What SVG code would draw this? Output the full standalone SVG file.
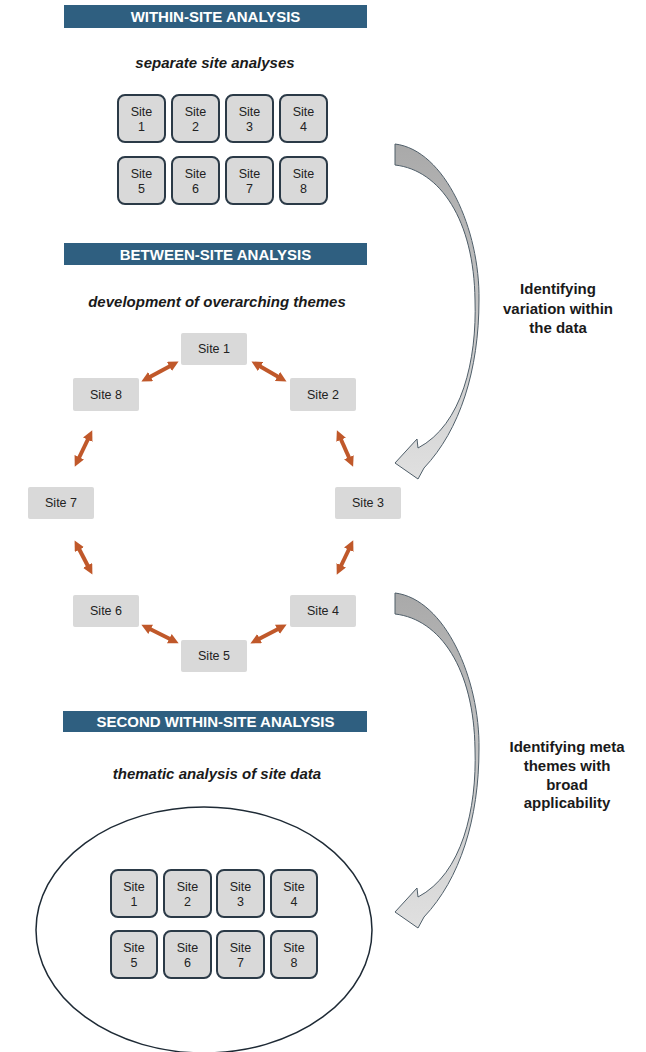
<svg xmlns="http://www.w3.org/2000/svg" width="646" height="1052" viewBox="0 0 646 1052">
<defs>
<style>
.hdr{fill:#2f5f80}
.hdrt{font-family:"Liberation Sans",Arial,sans-serif;font-weight:bold;font-size:15px;fill:#fff;text-anchor:middle}
.sub{font-family:"Liberation Sans",Arial,sans-serif;font-weight:bold;font-style:italic;font-size:15px;fill:#1a1a1a;text-anchor:middle}
.box{fill:#d9d9d9;stroke:#2b3a47;stroke-width:2}
.bt{font-family:"Liberation Sans",Arial,sans-serif;font-size:12.5px;fill:#222;text-anchor:middle}
.flat{fill:#d9d9d9}
.lab{font-family:"Liberation Sans",Arial,sans-serif;font-weight:bold;font-size:15px;fill:#1a1a1a;text-anchor:middle}
.dbl{stroke:#c0582a;stroke-width:4;fill:none;marker-start:url(#h);marker-end:url(#h)}
.big{fill:url(#g);stroke:#4f5e69;stroke-width:1}
</style>
<marker id="h" viewBox="0 0 10 10" refX="5" refY="5" markerWidth="2.6" markerHeight="2.6" orient="auto-start-reverse" markerUnits="strokeWidth">
<path d="M0,0 L10,5 L0,10 Z" fill="#c0582a"/>
</marker>
<linearGradient id="g" x1="0" y1="0" x2="0" y2="1">
<stop offset="0" stop-color="#a9a9a9"/>
<stop offset="1" stop-color="#e0e0e0"/>
</linearGradient>
<path id="curve" d="M395,144 C445,150 480,230 479,300 C479,370 460,430 424,468 L418,479 L395,463 L417,439 L418,448 C462,425 477,360 475,300 C474,220 440,170 395,165 Z"/>
</defs>

<g id="section1">
<rect class="hdr" x="64" y="5" width="303" height="23"/>
<text class="hdrt" x="215.5" y="22">WITHIN-SITE ANALYSIS</text>
<text class="sub" x="215" y="68">separate site analyses</text>
</g>
<g id="grid1">
<g id="g1-site1"><rect class="box" x="118" y="95" width="47" height="47" rx="7"/><text class="bt" x="141.5" y="116">Site</text><text class="bt" x="141.5" y="131">1</text></g>
<g id="g1-site2"><rect class="box" x="172" y="95" width="47" height="47" rx="7"/><text class="bt" x="195.5" y="116">Site</text><text class="bt" x="195.5" y="131">2</text></g>
<g id="g1-site3"><rect class="box" x="226" y="95" width="47" height="47" rx="7"/><text class="bt" x="249.5" y="116">Site</text><text class="bt" x="249.5" y="131">3</text></g>
<g id="g1-site4"><rect class="box" x="280" y="95" width="47" height="47" rx="7"/><text class="bt" x="303.5" y="116">Site</text><text class="bt" x="303.5" y="131">4</text></g>
<g id="g1-site5"><rect class="box" x="118" y="157" width="47" height="47" rx="7"/><text class="bt" x="141.5" y="178">Site</text><text class="bt" x="141.5" y="193">5</text></g>
<g id="g1-site6"><rect class="box" x="172" y="157" width="47" height="47" rx="7"/><text class="bt" x="195.5" y="178">Site</text><text class="bt" x="195.5" y="193">6</text></g>
<g id="g1-site7"><rect class="box" x="226" y="157" width="47" height="47" rx="7"/><text class="bt" x="249.5" y="178">Site</text><text class="bt" x="249.5" y="193">7</text></g>
<g id="g1-site8"><rect class="box" x="280" y="157" width="47" height="47" rx="7"/><text class="bt" x="303.5" y="178">Site</text><text class="bt" x="303.5" y="193">8</text></g>
</g>

<g id="section2">
<rect class="hdr" x="64" y="243" width="303" height="22"/>
<text class="hdrt" x="215.5" y="259.5">BETWEEN-SITE ANALYSIS</text>
<text class="sub" x="217" y="307">development of overarching themes</text>
</g>
<g id="ring">
<g id="r-site1"><rect class="flat" x="181" y="333" width="66" height="32" rx="2"/><text class="bt" x="214" y="353">Site 1</text></g>
<g id="r-site2"><rect class="flat" x="290" y="378" width="66" height="33" rx="2"/><text class="bt" x="323" y="399">Site 2</text></g>
<g id="r-site3"><rect class="flat" x="335" y="487" width="66" height="32" rx="2"/><text class="bt" x="368" y="507">Site 3</text></g>
<g id="r-site4"><rect class="flat" x="290" y="595" width="66" height="32" rx="2"/><text class="bt" x="323" y="615">Site 4</text></g>
<g id="r-site5"><rect class="flat" x="181" y="640" width="66" height="32" rx="2"/><text class="bt" x="214" y="660">Site 5</text></g>
<g id="r-site6"><rect class="flat" x="73" y="595" width="66" height="32" rx="2"/><text class="bt" x="106" y="615">Site 6</text></g>
<g id="r-site7"><rect class="flat" x="28" y="487" width="66" height="32" rx="2"/><text class="bt" x="61" y="507">Site 7</text></g>
<g id="r-site8"><rect class="flat" x="73" y="378" width="66" height="33" rx="2"/><text class="bt" x="106" y="399">Site 8</text></g>
</g>

<g id="connectors">
<line class="dbl" x1="174" y1="364" x2="146" y2="379"/>
<line class="dbl" x1="256" y1="364" x2="282" y2="379"/>
<line class="dbl" x1="90" y1="435" x2="77" y2="462"/>
<line class="dbl" x1="339" y1="435" x2="351" y2="462"/>
<line class="dbl" x1="77" y1="545" x2="90" y2="570"/>
<line class="dbl" x1="351" y1="545" x2="339" y2="570"/>
<line class="dbl" x1="146" y1="627" x2="174" y2="641"/>
<line class="dbl" x1="282" y1="627" x2="255" y2="641"/>
<use href="#curve" class="big"/>
<use href="#curve" class="big" transform="translate(0,449)"/>
</g>

<g id="label1">
<text class="lab" x="558" y="294">Identifying</text>
<text class="lab" x="558" y="314">variation within</text>
<text class="lab" x="558" y="333">the data</text>
</g>
<g id="label2">
<text class="lab" x="567" y="752">Identifying meta</text>
<text class="lab" x="567" y="771">themes with</text>
<text class="lab" x="567" y="790">broad</text>
<text class="lab" x="567" y="808">applicability</text>
</g>

<g id="section3">
<rect class="hdr" x="63" y="711" width="304" height="21"/>
<text class="hdrt" x="215.5" y="727">SECOND WITHIN-SITE ANALYSIS</text>
<text class="sub" x="217" y="779">thematic analysis of site data</text>
<ellipse cx="204" cy="930" rx="168" ry="123" fill="none" stroke="#1e2a35" stroke-width="1.5"/>
</g>
<g id="grid3">
<g id="g3-site1"><rect class="box" x="111" y="870" width="46" height="47" rx="7"/><text class="bt" x="134" y="891">Site</text><text class="bt" x="134" y="906">1</text></g>
<g id="g3-site2"><rect class="box" x="164" y="870" width="47" height="47" rx="7"/><text class="bt" x="187.5" y="891">Site</text><text class="bt" x="187.5" y="906">2</text></g>
<g id="g3-site3"><rect class="box" x="217" y="870" width="47" height="47" rx="7"/><text class="bt" x="240.5" y="891">Site</text><text class="bt" x="240.5" y="906">3</text></g>
<g id="g3-site4"><rect class="box" x="271" y="870" width="46" height="47" rx="7"/><text class="bt" x="294" y="891">Site</text><text class="bt" x="294" y="906">4</text></g>
<g id="g3-site5"><rect class="box" x="111" y="931" width="46" height="47" rx="7"/><text class="bt" x="134" y="952">Site</text><text class="bt" x="134" y="967">5</text></g>
<g id="g3-site6"><rect class="box" x="164" y="931" width="47" height="47" rx="7"/><text class="bt" x="187.5" y="952">Site</text><text class="bt" x="187.5" y="967">6</text></g>
<g id="g3-site7"><rect class="box" x="217" y="931" width="47" height="47" rx="7"/><text class="bt" x="240.5" y="952">Site</text><text class="bt" x="240.5" y="967">7</text></g>
<g id="g3-site8"><rect class="box" x="271" y="931" width="46" height="47" rx="7"/><text class="bt" x="294" y="952">Site</text><text class="bt" x="294" y="967">8</text></g>
</g>
</svg>
